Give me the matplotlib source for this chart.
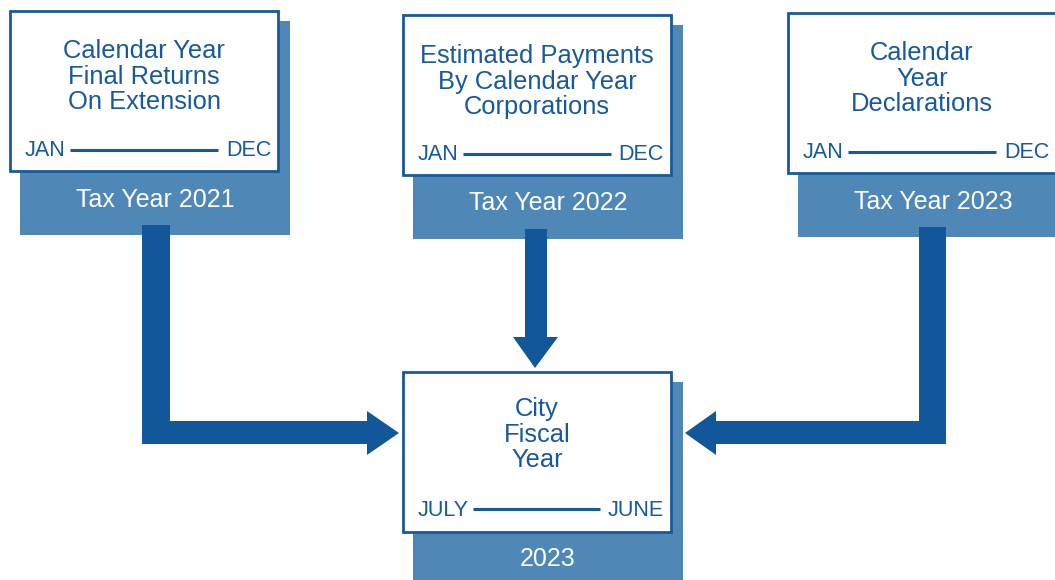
'''Tax year to city fiscal year diagram'''
import matplotlib
matplotlib.use('Agg')
import matplotlib.pyplot as plt
from matplotlib.patches import Rectangle, Polygon

# content of the four boxes
box_titles = [
    ['Calendar Year', 'Final Returns', 'On Extension'],
    ['Estimated Payments', 'By Calendar Year', 'Corporations'],
    ['Calendar', 'Year', 'Declarations'],
    ['City', 'Fiscal', 'Year'],
]
range_start = ['JAN', 'JAN', 'JAN', 'JULY']
range_end = ['DEC', 'DEC', 'DEC', 'JUNE']
year_labels = ['Tax Year 2021', 'Tax Year 2022', 'Tax Year 2023', '2023']

# layout (pixels, y down)
box_pos = [(10, 11), (403, 15), (788, 13), (403, 372)]
box_w, box_h = 268, 160
title_dy = [40, 41, 40, 37]
range_dy = [140, 140, 140, 138]
year_dy = [189, 188, 189, 187]

text_blue = '#17599b'
arrow_blue = '#12579a'
shadow_blue = '#4f88b6'

plt.rcParams['font.family'] = ['Liberation Sans', 'DejaVu Sans']

fig = plt.figure(figsize=(10.55, 5.8), dpi=100)
ax = fig.add_axes([0, 0, 1, 1])
ax.set_xlim(0, 1055)
ax.set_ylim(580, 0)
ax.axis('off')
renderer = fig.canvas.get_renderer()
inv = ax.transData.inverted()

for i, (bx, by) in enumerate(box_pos):
    # shadow block with the year underneath
    ax.add_patch(Rectangle((bx + 10, by + 10), box_w + 2, box_h + 54,
                           facecolor=shadow_blue, edgecolor='none', zorder=1))
    ax.add_patch(Rectangle((bx, by), box_w, box_h, facecolor='white',
                           edgecolor=text_blue, linewidth=2, zorder=2))
    cx = bx + box_w / 2
    for j, line in enumerate(box_titles[i]):
        ax.text(cx, by + title_dy[i] + j * 25.5, line, ha='center', va='center',
                fontsize=18.4, color=text_blue, zorder=3)
    ry = by + range_dy[i]
    t1 = ax.text(bx + 15, ry, range_start[i], ha='left', va='center',
                 fontsize=15.5, color=text_blue, zorder=3)
    t2 = ax.text(bx + box_w - 7, ry, range_end[i], ha='right', va='center',
                 fontsize=15.5, color=text_blue, zorder=3)
    # line between the month labels
    e1 = inv.transform(t1.get_window_extent(renderer))
    e2 = inv.transform(t2.get_window_extent(renderer))
    ax.plot([e1[1][0] + 4, e2[0][0] - 8], [ry - 1, ry - 1], color=text_blue,
            linewidth=2.2, solid_capstyle='butt', zorder=3)
    ax.text(bx + 10 + (box_w + 2) / 2, by + year_dy[i], year_labels[i],
            ha='center', va='center', fontsize=18, color='white', zorder=3)

# arrows into the city fiscal year box
arrows = [
    [(142, 225), (170, 225), (170, 421), (367, 421), (367, 411), (399, 433),
     (367, 455), (367, 444), (142, 444)],
    [(525, 229), (547, 229), (547, 337), (558, 337), (535, 368), (513, 337),
     (525, 337)],
    [(919, 227), (946, 227), (946, 444), (716, 444), (716, 455), (685, 433),
     (716, 411), (716, 421), (919, 421)],
]
for pts in arrows:
    ax.add_patch(Polygon(pts, closed=True, facecolor=arrow_blue,
                         edgecolor='none', zorder=1))

fig.savefig('out.png', dpi=100)
